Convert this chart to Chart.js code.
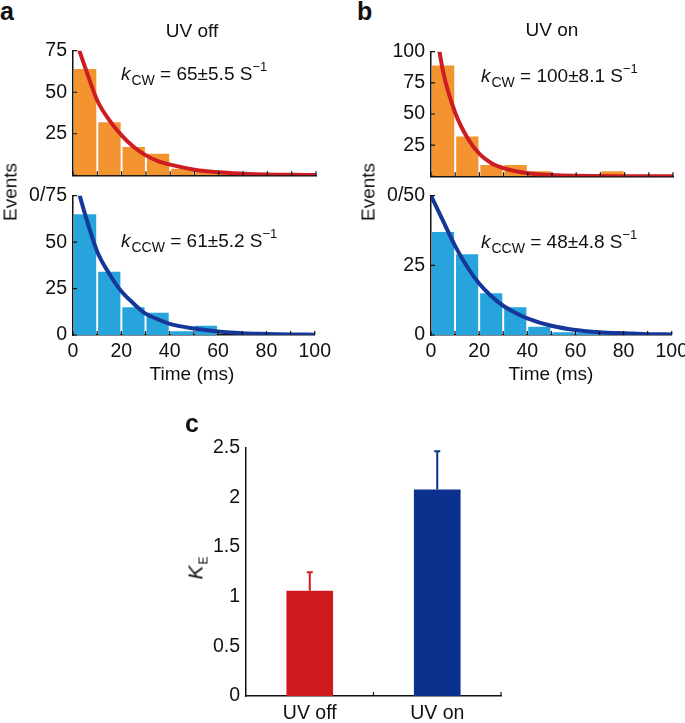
<!DOCTYPE html>
<html>
<head>
<meta charset="utf-8">
<script src="https://cdn.jsdelivr.net/npm/chart.js@4.4.1/dist/chart.umd.min.js"></script>
<style>
  body { margin: 0; background: #fff; width: 685px; height: 723px; position: relative; overflow: hidden;
         font-family: "Liberation Sans", Arial, sans-serif; color: #111; }
  canvas { position: absolute; }
  .t { position: absolute; font-size: 19px; line-height: 1; white-space: nowrap; }
  .lt { position: absolute; font-size: 25px; font-weight: bold; line-height: 1; }
  .c { transform: translateX(-50%); }
  .rot { transform: translate(-50%, -50%) rotate(-90deg); }
  .sb { font-size: 14px; position: relative; top: 5px; margin-left: 1px; }
  .sp { font-size: 13px; position: relative; top: -9px; }
</style>
</head>
<body>
<canvas id="offTop" width="336" height="160" style="left:0;top:33px"></canvas>
<canvas id="offBottom" width="336" height="187" style="left:0;top:178px"></canvas>
<canvas id="onTop" width="343" height="160" style="left:350px;top:34px"></canvas>
<canvas id="onBottom" width="343" height="187" style="left:350px;top:178px"></canvas>
<canvas id="kEChart" width="361" height="293" style="left:150px;top:430px"></canvas>

<div class="lt" style="left:0;top:-1px">a</div>
<div class="lt" style="left:357px;top:-1px">b</div>
<div class="lt" style="left:185px;top:411px">c</div>

<div class="t c" style="left:192px;top:21px">UV off</div>
<div class="t c" style="left:552px;top:20px">UV on</div>

<div class="t" style="left:121px;top:64px"><i>k</i><span class="sb">CW</span> = 65±5.5 S<span class="sp">−1</span></div>
<div class="t" style="left:121px;top:231px"><i>k</i><span class="sb">CCW</span> = 61±5.2 S<span class="sp">−1</span></div>
<div class="t" style="left:481px;top:66px"><i>k</i><span class="sb">CW</span> = 100±8.1 S<span class="sp">−1</span></div>
<div class="t" style="left:481px;top:232px"><i>k</i><span class="sb">CCW</span> = 48±4.8 S<span class="sp">−1</span></div>

<div class="t rot" style="left:10px;top:192px">Events</div>
<div class="t rot" style="left:368px;top:192px">Events</div>
<div class="t c" style="left:192px;top:364px">Time (ms)</div>
<div class="t c" style="left:551px;top:364px">Time (ms)</div>
<div class="t rot" style="left:195px;top:568px;font-size:21px"><i>K</i><span class="sb" style="font-size:12px">E</span></div>

<script>
// histogram bins (ms) and event counts
const binCenters = [5, 15, 25, 35, 45, 55, 65, 75, 85, 95];
const offCW  = [64, 32, 17, 13, 4, 2, 1, 0, 0, 0];
const offCCW = [65, 34, 15, 12, 2, 5, 0, 0, 0, 0];
const onCW   = [89, 32, 9, 9, 4, 1, 1, 4, 0, 0];
const onCCW  = [37, 29, 15, 10, 3, 1, 1, 1, 0, 0];

// exponential fit curves
const fitTimes  = [0, 5, 10, 15, 20, 25, 30, 35, 40, 50, 60, 70, 80, 90, 100];
const offCWFit  = [86, 65, 45, 33, 24, 17, 12, 8.5, 6.4, 3.4, 1.8, 1, 0.5, 0.3, 0.2];
const offCCWFit = [88, 65, 45, 33, 23.5, 17, 11.5, 8.5, 6, 3.5, 1.9, 1, 0.6, 0.3, 0.2];
const onCWFit   = [143, 84, 51, 31, 18, 10.5, 6.5, 4, 2.5, 1, 0.4, 0.2, 0.1, 0, 0];
const onCCWFit  = [50, 41, 32, 24.5, 18.5, 14, 10.5, 8, 6, 3.3, 1.8, 1, 0.6, 0.3, 0.2];

const offTopTicks    = ['', '25', '50', '75'];
const offBottomTicks = ['0', '25', '50', '0/75'];
const onTopTicks     = ['', '25', '50', '75', '100'];
const onBottomTicks  = ['0', '25', '0/50'];

// panel c
const conditions = ['UV off', 'UV on'];
const kE    = [1.06, 2.08];
const kEErr = [0.185, 0.385];
const kETicks = ['0', '0.5', '1', '1.5', '2', '2.5'];

Chart.defaults.font.family = '"Liberation Sans", Arial, sans-serif';
Chart.defaults.font.size = 19.5;
Chart.defaults.color = '#111';
Chart.defaults.animation = false;

// short tick marks pointing into the plot
const innerTicks = {
  id: 'innerTicks',
  afterDraw(chart, args, opts) {
    const { ctx, scales: { x, y } } = chart;
    const xs = opts.xValues || x.ticks.map(t => t.value);
    const ys = opts.noY ? [] : y.ticks.map(t => t.value);
    ctx.save();
    ctx.strokeStyle = '#111';
    ctx.lineWidth = 1.2;
    ctx.beginPath();
    xs.forEach(v => {
      const px = x.getPixelForValue(v);
      ctx.moveTo(px, x.top);
      ctx.lineTo(px, x.top - 4);
    });
    ys.forEach(v => {
      const py = y.getPixelForValue(v);
      ctx.moveTo(y.right, py);
      ctx.lineTo(y.right + 4, py);
    });
    ctx.stroke();
    ctx.restore();
  }
};

// one-sided error bars for panel c
const errorBars = {
  id: 'errorBars',
  afterDatasetsDraw(chart, args, opts) {
    if (!opts.errors) return;
    const { ctx, scales: { y } } = chart;
    const ds = chart.data.datasets[0];
    ctx.save();
    chart.getDatasetMeta(0).data.forEach((bar, i) => {
      const top = y.getPixelForValue(ds.data[i] + opts.errors[i]);
      ctx.strokeStyle = ds.backgroundColor[i];
      ctx.lineWidth = 2;
      ctx.beginPath();
      ctx.moveTo(bar.x, bar.y);
      ctx.lineTo(bar.x, top);
      ctx.moveTo(bar.x - 3, top);
      ctx.lineTo(bar.x + 3, top);
      ctx.stroke();
    });
    ctx.restore();
  }
};

Chart.register(innerTicks, errorBars);

function histChart(id, counts, fit, barColor, lineColor, yMax, yLabels, yWidth, showX) {
  new Chart(document.getElementById(id), {
    type: 'bar',
    data: {
      datasets: [
        {
          type: 'line',
          data: fitTimes.map((t, i) => ({ x: t, y: fit[i] })),
          borderColor: lineColor,
          borderWidth: 4,
          pointRadius: 0,
          cubicInterpolationMode: 'monotone',
          clip: 0,
          order: 0
        },
        {
          data: binCenters.map((c, i) => ({ x: c, y: counts[i] })),
          backgroundColor: barColor,
          barPercentage: 0.92,
          categoryPercentage: 1,
          order: 1
        }
      ]
    },
    options: {
      responsive: false,
      layout: { padding: { top: 12, right: 20, left: 0, bottom: 0 } },
      plugins: { legend: { display: false }, tooltip: { enabled: false } },
      scales: {
        x: {
          type: 'linear', min: 0, max: 100, offset: false,
          grid: { display: false, drawTicks: false },
          border: { color: '#111', width: 1.5 },
          ticks: {
            display: showX, stepSize: 10, padding: 5, maxRotation: 0, autoSkip: false,
            callback: v => (v % 20 === 0 ? v : '')
          },
          afterFit: s => { s.height = showX ? 30 : 4; }
        },
        y: {
          min: 0, max: yMax,
          grid: { display: false, drawTicks: false },
          border: { color: '#111', width: 1.5 },
          ticks: { stepSize: 25, padding: 6, callback: (v, i) => yLabels[i] },
          afterFit: s => { s.width = yWidth; }
        }
      }
    }
  });
}

histChart('offTop', offCW, offCWFit, '#F39431', '#CE1D22', 75, offTopTicks, 73, false);
histChart('offBottom', offCCW, offCCWFit, '#28A4DD', '#16379A', 75, offBottomTicks, 73, true);
histChart('onTop', onCW, onCWFit, '#F39431', '#CE1D22', 100, onTopTicks, 81, false);
histChart('onBottom', onCCW, onCCWFit, '#28A4DD', '#16379A', 50, onBottomTicks, 81, true);

new Chart(document.getElementById('kEChart'), {
  type: 'bar',
  data: {
    labels: conditions,
    datasets: [{
      data: kE,
      backgroundColor: ['#CD1B1F', '#0B318F'],
      barPercentage: 0.366,
      categoryPercentage: 1
    }]
  },
  options: {
    responsive: false,
    layout: { padding: { top: 12, right: 10, left: 0, bottom: 0 } },
    plugins: {
      legend: { display: false },
      tooltip: { enabled: false },
      innerTicks: { xValues: [0.5, 1.5], noY: true },
      errorBars: { errors: kEErr }
    },
    scales: {
      x: {
        grid: { display: false, drawTicks: false },
        border: { color: '#111', width: 1.5 },
        ticks: { padding: 6 },
        afterFit: s => { s.height = 27; }
      },
      y: {
        min: 0, max: 2.5,
        grid: { display: false, drawTicks: false },
        border: { color: '#111', width: 1.5 },
        ticks: { stepSize: 0.5, padding: 6, callback: (v, i) => kETicks[i] },
        afterFit: s => { s.width = 96; }
      }
    }
  }
});
</script>
</body>
</html>
